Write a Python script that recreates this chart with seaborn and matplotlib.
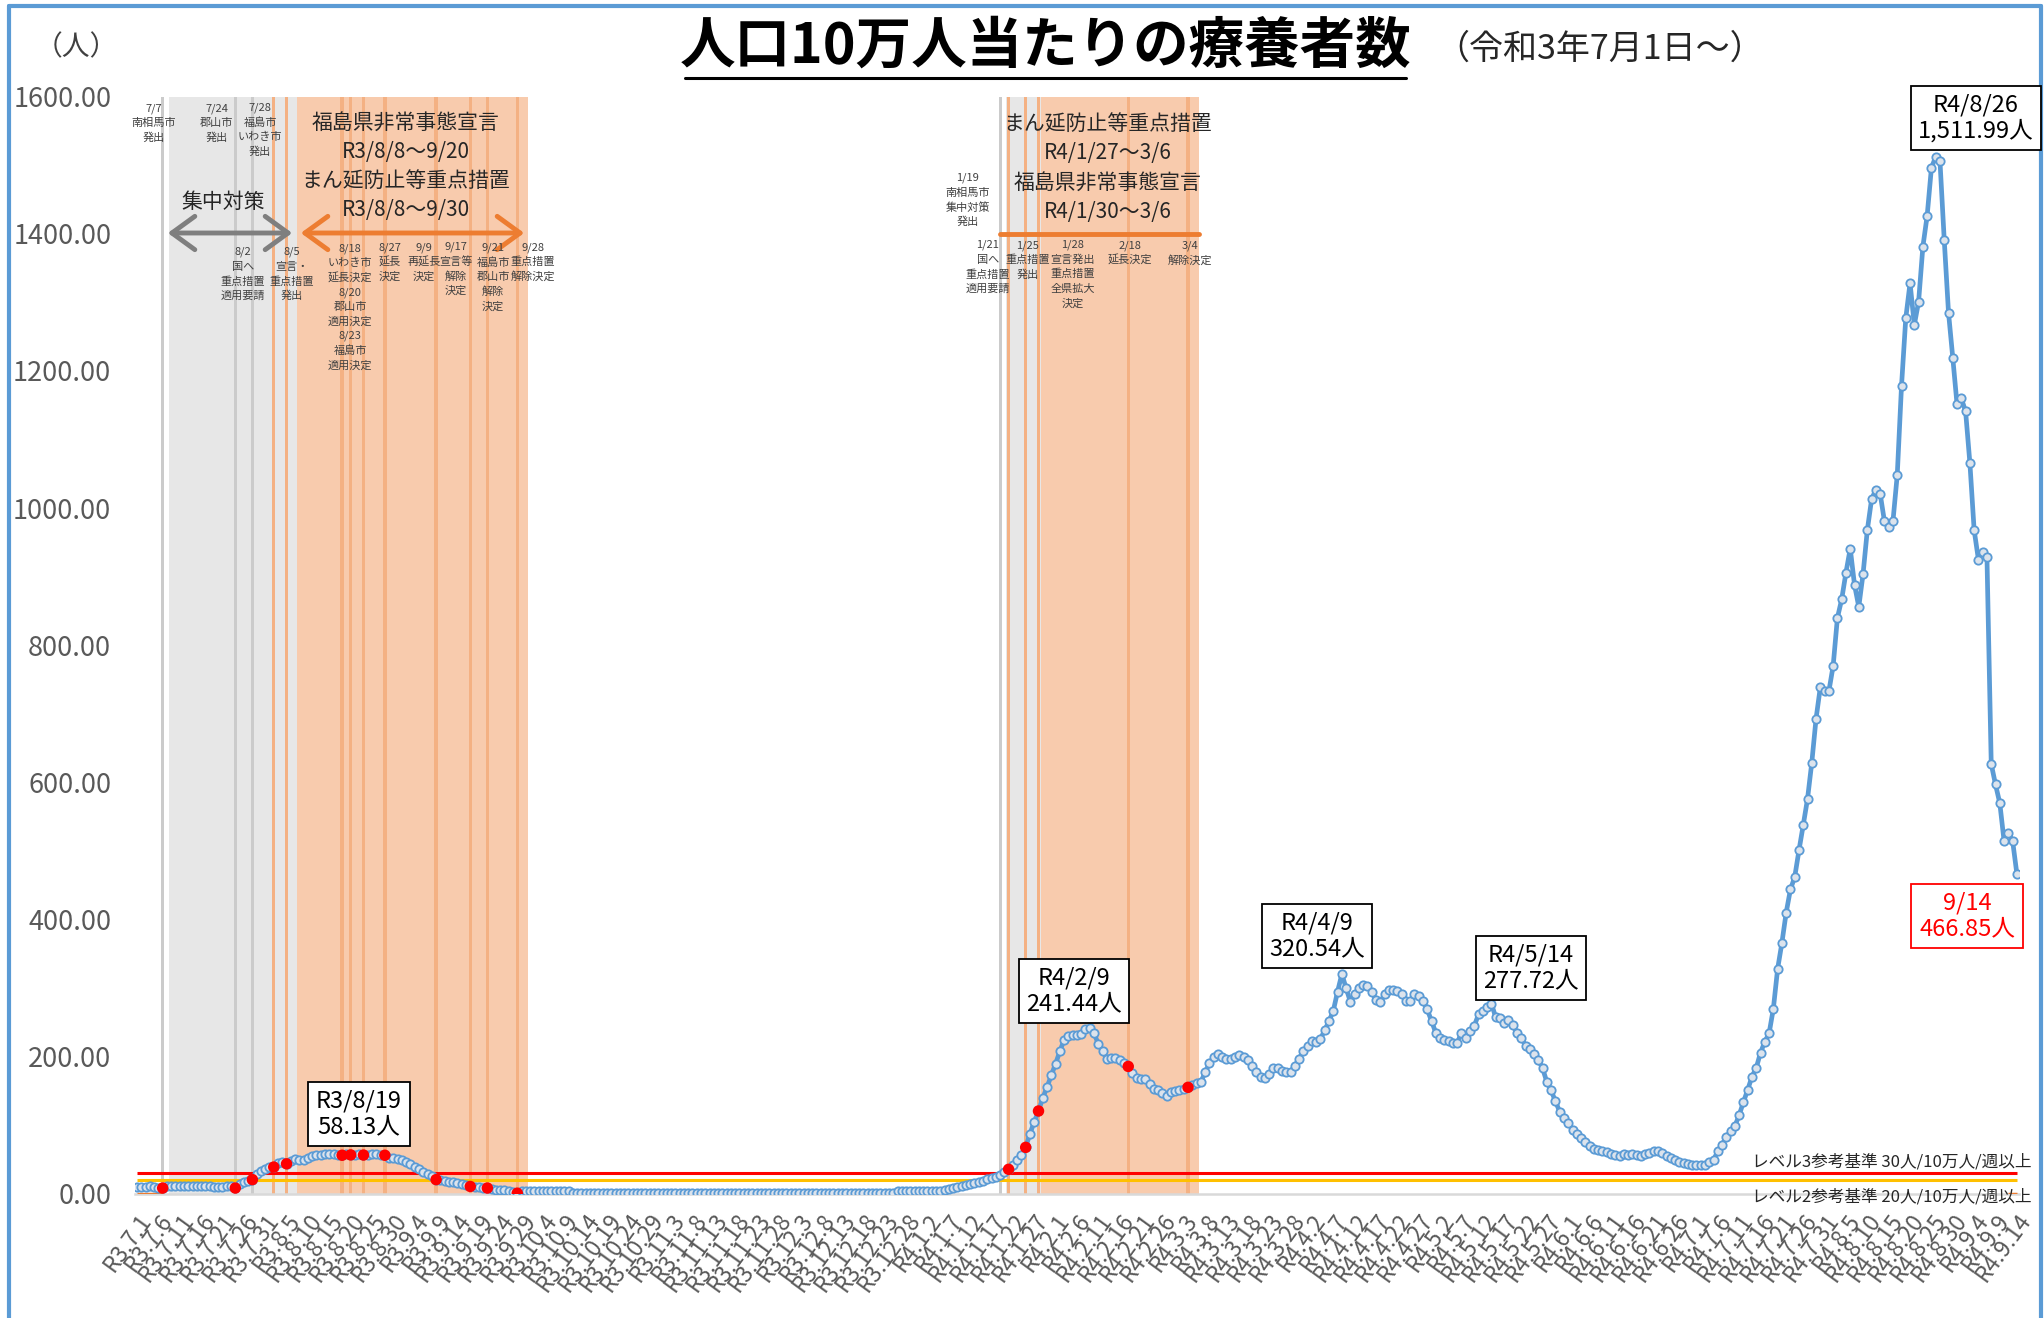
import numpy as np
import pandas as pd
import matplotlib
matplotlib.use("Agg")
import matplotlib.pyplot as plt
import seaborn as sns
from matplotlib.patches import FancyArrowPatch
from matplotlib.lines import Line2D

# ---------------- data (per 100k people under treatment, daily) ----------------
jul21 = [9.7, 9.7, 10.7, 11.0, 9.7, 8.7, 8.7, 12.1, 12.3, 12.0,
         11.8, 12.2, 12.0, 11.9, 12.1, 12.0, 11.8, 11.0, 10.6, 9.8,
         9.7, 11.0, 12.0, 8.7, 14.6, 17.0, 19.4, 21.0, 29.0, 34.0,
         36.0]
aug21 = [39.0, 39.3, 45.0, 47.0, 44.0, 48.5, 51.0, 50.0, 50.0, 53.0,
         55.0, 57.0, 57.5, 57.8, 57.9, 57.6, 56.8, 56.5, 58.13, 57.0,
         57.5, 57.6, 56.8, 57.4, 57.9, 57.7, 57.0, 56.5, 53.0, 52.0,
         51.0]
sep21 = [50.0, 47.0, 44.0, 40.0, 36.0, 32.5, 29.0, 25.7, 21.0, 21.0,
         19.4, 18.0, 17.0, 15.5, 14.6, 13.0, 11.0, 10.7, 9.7, 9.2,
         8.7, 7.3, 6.3, 5.8, 5.3, 4.4, 3.4, 1.2, 3.8, 3.9]
oct21 = [3.8, 3.9, 4.1, 4.2, 4.1, 4.2, 4.0, 4.1, 4.2, 4.0,
         1.5, 1.9, 1.8, 1.9, 2.0, 1.9, 1.8, 1.8, 1.9, 2.0,
         1.9, 1.8, 1.9, 1.9, 1.8, 1.7, 1.8, 1.9, 1.9, 1.8,
         1.8]
nov21 = [1.7, 1.8, 1.9, 1.8, 1.8, 1.7, 1.8, 1.9, 1.9, 1.8,
         1.8, 1.9, 2.0, 1.9, 1.8, 1.8, 1.9, 1.9, 1.8, 1.7,
         1.8, 1.9, 1.9, 1.8, 1.8, 1.9, 2.0, 2.0, 1.9, 1.9]
dec21 = [1.9, 1.8, 1.8, 1.9, 2.0, 1.9, 1.8, 1.8, 1.9, 2.0,
         2.0, 1.9, 1.9, 1.8, 1.9, 2.0, 2.1, 2.0, 1.9, 1.9,
         2.0, 2.1, 2.0, 2.0, 2.1, 4.2, 4.3, 4.3, 4.4, 4.3,
         4.2]
jan22 = [4.4, 4.5, 4.4, 4.5, 4.8, 5.5, 7.3, 8.5, 10.0, 11.5,
         13.0, 14.5, 16.0, 17.5, 19.5, 21.5, 23.5, 25.5, 28.0, 32.0,
         36.0, 43.0, 49.0, 57.0, 68.0, 88.0, 105.0, 121.0, 140.0, 156.0,
         173.0]
feb22 = [190, 208, 225, 231, 232, 232, 233, 240, 241.44, 234,
         219, 208, 197, 198, 198, 196, 191, 186, 177, 169,
         167, 168, 160, 153, 151.5, 147, 142.5, 148]
mar22 = [150.5, 151, 153.5, 155.5, 159, 162, 163, 177.5, 190.5, 199.5,
         203.5, 200, 197, 197.5, 199.5, 203, 199, 195, 187, 178,
         171, 169, 175, 184, 184, 180, 178, 178, 187, 197,
         209]
apr22 = [216, 223, 221, 226, 239, 252, 267, 295, 320.54, 300,
         280, 291, 300, 305, 303, 295, 283, 280, 291, 298,
         298, 296, 291, 281, 281, 291, 288, 281, 269, 252]
may22 = [235, 228, 224, 223, 220, 220, 235, 227, 238, 245,
         262, 267, 272, 277.72, 258, 257, 250, 254, 246, 235,
         228, 216, 212, 204, 195, 183, 163, 151, 135, 120,
         111]
jun22 = [103, 94, 87, 82, 76, 70, 66, 64, 63, 61,
         59, 57, 56, 58, 57, 58, 57, 56, 58, 60,
         62, 63, 60, 56, 53, 49, 47, 45, 44, 43]
jul22 = [42, 42, 43, 46, 50, 62, 72, 83, 92, 99,
         115, 134, 152, 171, 184, 206, 222, 234, 270, 328,
         366, 410, 444, 462, 501, 538, 576, 629, 693, 739,
         733]
aug22 = [733, 770, 840, 867, 906, 941, 888, 856, 904, 968,
         1013, 1027, 1021, 981, 973, 981, 1048, 1178, 1277, 1328,
         1267, 1301, 1381, 1426, 1496, 1511.99, 1506, 1391, 1285, 1219,
         1151]
sep22 = [1160, 1141, 1066, 968, 925, 936, 928, 627, 597, 570,
         515, 526, 515, 466.85]

values = (jul21 + aug21 + sep21 + oct21 + nov21 + dec21 + jan22 + feb22 +
          mar22 + apr22 + may22 + jun22 + jul22 + aug22 + sep22)
dates = pd.date_range("2021-07-01", "2022-09-14", freq="D")
n = min(len(dates), len(values))
dates = dates[:n]
values = values[:n]
df = pd.DataFrame({"day": np.arange(n), "value": values})

tick_dates = dates[::5]
tick_labels = [f"R{d.year - 2018}.{d.month}.{d.day}" for d in tick_dates]
yticks = [0, 200, 400, 600, 800, 1000, 1200, 1400, 1600]

level3 = 30
level2 = 20

red_dates = ["2021-07-07", "2021-07-24", "2021-07-28", "2021-08-02", "2021-08-05",
             "2021-08-18", "2021-08-20", "2021-08-23", "2021-08-28", "2021-09-09",
             "2021-09-17", "2021-09-21", "2021-09-28",
             "2022-01-21", "2022-01-25", "2022-01-28", "2022-02-18", "2022-03-04"]
gray_line_dates = ["2021-07-07", "2021-07-24", "2021-07-28", "2022-01-19"]
orange_line_dates = ["2021-08-02", "2021-08-05", "2021-08-18", "2021-08-20", "2021-08-23",
                     "2021-08-28", "2021-09-09", "2021-09-17", "2021-09-21", "2021-09-28",
                     "2022-01-21", "2022-01-25", "2022-01-28", "2022-02-18", "2022-03-04"]
gray_spans = [("2021-07-09", "2021-08-07"), ("2022-01-21", "2022-01-28")]
orange_spans = [("2021-08-08", "2021-09-30"), ("2022-01-29", "2022-03-06")]
orange_zero_dates = [("2021-07-01", "2021-07-07"), ("2022-09-12", "2022-09-14")]


def idx(s):
    return dates.get_loc(pd.Timestamp(s))


# ---------------- style ----------------
sns.set_theme(style="white")
plt.rcParams["font.family"] = ["Noto Sans CJK JP", "DejaVu Sans"]

W, H = 2044, 1318
fig = plt.figure(figsize=(W / 100, H / 100), dpi=100)
ax = fig.add_axes([134.9 / W, 1 - 1194 / H, (2019 - 134.9) / W, (1194 - 96.5) / H])


def fx(px):
    return px / W


def fy(py):
    return 1 - py / H


LGRAY = "#E7E7E7"
DGRAY = "#CBCBCB"
LORANGE = "#F8CBAD"
DORANGE = "#F4B183"

for a, b in gray_spans:
    ax.axvspan(idx(a) - 0.5, idx(b) + 0.5, color=LGRAY, lw=0, zorder=0)
for a, b in orange_spans:
    ax.axvspan(idx(a) - 0.5, idx(b) + 0.5, color=LORANGE, lw=0, zorder=0)
for d in gray_line_dates:
    ax.axvspan(idx(d) - 0.35, idx(d) + 0.35, color=DGRAY, lw=0, zorder=0.5)
for d in orange_line_dates:
    ax.axvspan(idx(d) - 0.4, idx(d) + 0.4, color=DORANGE, lw=0, zorder=0.5)

# level lines
ax.plot([0, n - 1], [level3, level3], color="#FF0000", lw=2.2, zorder=2, solid_capstyle="butt")
ax.plot([0, n - 1], [level2, level2], color="#FFC000", lw=2.2, zorder=2, solid_capstyle="butt")
for a, b in orange_zero_dates:
    ax.plot([idx(a), idx(b)], [0.5, 0.5], color="#ED7D31", lw=2.5, zorder=2, solid_capstyle="butt")

# main series
sns.lineplot(data=df, x="day", y="value", ax=ax, color="#5B9BD5", lw=3.4,
             marker="o", markersize=6.0, markerfacecolor="#DCE3EC",
             markeredgecolor="#5B9BD5", markeredgewidth=1.3, zorder=3)

red_idx = [idx(d) for d in red_dates]
sns.scatterplot(x=red_idx, y=[values[i] for i in red_idx], ax=ax, s=68,
                color="#FF0000", edgecolor="none", zorder=4)

ax.set_xlim(-0.5, n - 0.5)
ax.set_ylim(0, 1600)
ax.set_xlabel("")
ax.set_ylabel("")
for s in ["top", "right", "left"]:
    ax.spines[s].set_visible(False)
ax.spines["bottom"].set_color("#D9D9D9")
ax.spines["bottom"].set_linewidth(1.8)
ax.spines["bottom"].set_zorder(1)

ax.set_yticks(yticks)
ax.set_yticklabels([f"{v:.2f}" for v in yticks], fontsize=19.5, color="#595959")
ax.set_xticks([idx(d) for d in tick_dates])
ax.set_xticklabels(tick_labels, rotation=54, ha="right", va="top",
                   rotation_mode="anchor", fontsize=16.5, color="#595959")
ax.tick_params(axis="y", length=0, pad=17)
ax.tick_params(axis="x", length=0, pad=11)
ax.grid(False)

# ---------------- titles ----------------
fig.text(fx(1046), fy(47), "人口10万人当たりの療養者数", ha="center", va="center",
         fontsize=40, fontweight="bold", color="#000000")
fig.add_artist(Line2D([fx(685), fx(1406)], [fy(78), fy(78)], color="black", lw=2.2,
                      transform=fig.transFigure))
fig.text(fx(1600), fy(49), "（令和3年7月1日～）", ha="center", va="center",
         fontsize=24.5, color="#262626")
fig.text(fx(76), fy(47), "（人）", ha="center", va="center", fontsize=20, color="#404040")

# ---------------- event annotations (one text per line) ----------------
SP = 14.6
events = [
    (154, 123, ["7/7", "南相馬市", "発出"]),
    (217, 123, ["7/24", "郡山市", "発出"]),
    (260, 130, ["7/28", "福島市", "いわき市", "発出"]),
    (243, 274, ["8/2", "国へ", "重点措置", "適用要請"]),
    (292, 274, ["8/5", "宣言・", "重点措置", "発出"]),
    (350, 307, ["8/18", "いわき市", "延長決定", "8/20", "郡山市", "適用決定", "8/23", "福島市", "適用決定"]),
    (390, 262, ["8/27", "延長", "決定"]),
    (424, 262, ["9/9", "再延長", "決定"]),
    (456, 269, ["9/17", "宣言等", "解除", "決定"]),
    (493, 277, ["9/21", "福島市", "郡山市", "解除", "決定"]),
    (533, 262, ["9/28", "重点措置", "解除決定"]),
    (968, 200, ["1/19", "南相馬市", "集中対策", "発出"]),
    (988, 267, ["1/21", "国へ", "重点措置", "適用要請"]),
    (1028, 260, ["1/25", "重点措置", "発出"]),
    (1073, 274, ["1/28", "宣言発出", "重点措置", "全県拡大", "決定"]),
    (1130, 253, ["2/18", "延長決定"]),
    (1190, 253, ["3/4", "解除決定"]),
]
for x, yc, lines in events:
    y0 = yc - (len(lines) - 1) / 2 * SP
    for i, t in enumerate(lines):
        fig.text(fx(x), fy(y0 + i * SP), t, ha="center", va="center", fontsize=8.0,
                 color="#404040")

big = dict(ha="center", va="center", fontsize=15, color="#262626", linespacing=1.42)
fig.text(fx(406), fy(166.5), "福島県非常事態宣言\nR3/8/8～9/20\nまん延防止等重点措置\nR3/8/8～9/30", **big)
fig.text(fx(1107.5), fy(168), "まん延防止等重点措置\nR4/1/27～3/6\n福島県非常事態宣言\nR4/1/30～3/6", **big)
fig.text(fx(223), fy(202), "集中対策", ha="center", va="center", fontsize=15, color="#262626")

fig.add_artist(FancyArrowPatch((fx(165), fy(233)), (fx(295), fy(233)),
                               transform=fig.transFigure, arrowstyle="<->,head_length=0.55,head_width=0.4",
                               mutation_scale=30, lw=3.5, color="#7F7F7F"))
fig.add_artist(FancyArrowPatch((fx(298), fy(233)), (fx(527), fy(233)),
                               transform=fig.transFigure, arrowstyle="<->,head_length=0.55,head_width=0.4",
                               mutation_scale=30, lw=3.5, color="#ED7D31"))
fig.add_artist(Line2D([fx(1000), fx(1199)], [fy(234), fy(234)], color="#ED7D31", lw=3.5,
                      solid_capstyle="round", transform=fig.transFigure))

# ---------------- value boxes ----------------
box = dict(boxstyle="square,pad=0.32", fc="white", ec="black", lw=1.3)
labels = [
    (359, 1114, "R3/8/19\n58.13人", "black"),
    (1074, 991, "R4/2/9\n241.44人", "black"),
    (1317, 936, "R4/4/9\n320.54人", "black"),
    (1531, 968, "R4/5/14\n277.72人", "black"),
    (1976, 118, "R4/8/26\n1,511.99人", "black"),
    (1967, 916, "9/14\n466.85人", "#FF0000"),
]
for x, y, t, c in labels:
    b = dict(box)
    b["ec"] = c
    fig.text(fx(x), fy(y), t, ha="center", va="center", fontsize=17, color=c,
             linespacing=1.12, bbox=b, zorder=6)

fig.text(fx(2032), fy(1162), "レベル3参考基準 30人/10万人/週以上", ha="right", va="center",
         fontsize=12, color="#262626")
fig.text(fx(2032), fy(1197), "レベル2参考基準 20人/10万人/週以上", ha="right", va="center",
         fontsize=12, color="#262626")

# ---------------- border ----------------
bc = "#5B9BD5"
fig.add_artist(Line2D([fx(9), fx(9)], [fy(6), fy(1318)], color=bc, lw=3, transform=fig.transFigure))
fig.add_artist(Line2D([fx(9), fx(2041)], [fy(6), fy(6)], color=bc, lw=3, transform=fig.transFigure))
fig.add_artist(Line2D([fx(2041), fx(2041)], [fy(6), fy(1318)], color=bc, lw=3, transform=fig.transFigure))

fig.savefig("out.png", dpi=100)
